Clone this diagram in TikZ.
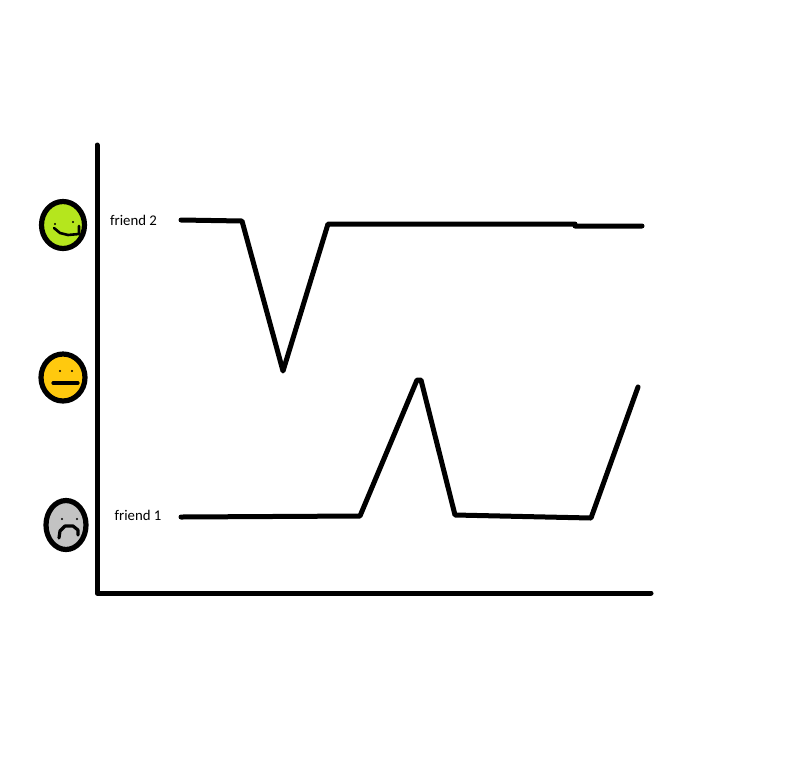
\documentclass[tikz,border=0pt]{standalone}
\usepackage{fontspec}
\setmainfont{Carlito}
\usetikzlibrary{shapes.geometric}
\definecolor{facegreen}{HTML}{B5E61D}
\definecolor{faceyellow}{HTML}{FFC90E}
\definecolor{facegray}{HTML}{C3C3C3}
\tikzset{
  thick line/.style={line width=5pt,line cap=round,line join=round,black},
  face/.style={draw=black,line width=5.2pt,ellipse,minimum width=#1,inner sep=0pt,outer sep=0pt},
  mouth/.style={line width=3.2pt,line cap=round,line join=round,black},
  eye/.style={fill=black,circle,minimum size=2.4pt,inner sep=0pt},
  lab/.style={font=\fontsize{14.8pt}{16pt}\selectfont,text=black,inner sep=0pt,anchor=base}
}
\begin{document}
\begin{tikzpicture}[x=1pt,y=-1pt]
\useasboundingbox[fill=white] (0,0) rectangle (800,780);
% axes
\coordinate (axtop) at (97,145);
\coordinate (axorigin) at (97,593);
\coordinate (axright) at (651,593);
\draw[thick line] (axtop) -- (axorigin) -- (axright);
% faces
\node[face=43pt,minimum height=47pt,fill=facegreen] (happy) at (63,225) {};
\node[face=44pt,minimum height=47pt,fill=faceyellow] (neutral) at (63,377.5) {};
\node[face=40pt,minimum height=49pt,fill=facegray] (sad) at (66,525) {};
% eyes and mouths
\node[eye] (he1) at (55,224) {};
\node[eye] (he2) at (73,222) {};
\node[eye] (ne1) at (60,371) {};
\node[eye] (ne2) at (72,371) {};
\node[eye] (se1) at (62,519) {};
\node[eye] (se2) at (77,519) {};
\draw[mouth,line width=2.6pt] (54,228) -- (60,233) -- (68,235) -- (79,234) -- (79,226);
\draw[mouth] (53,383) -- (78,383);
\draw[mouth] (59,538) -- (60,531) -- (65,526) -- (73,526) -- (78,530) -- (78,535);
% labels
\node[lab] (f2) at (133.5,225) {friend 2};
\node[lab] (f1) at (138,520.5) {friend 1};
% series
\coordinate (a0) at (181,220);
\coordinate (a1) at (242,221);
\coordinate (a2) at (283,371);
\coordinate (a3) at (328,224);
\coordinate (a4) at (575,224);
\coordinate (a5) at (575,226);
\coordinate (a6) at (642,226);
\draw[thick line] (a0) -- (a1) -- (a2) -- (a3) -- (a4) -- (a5) -- (a6);
\coordinate (b0) at (181,517);
\coordinate (b1) at (360,516);
\coordinate (b2) at (417,380);
\coordinate (b3) at (421,380);
\coordinate (b4) at (455,515);
\coordinate (b5) at (591,518);
\coordinate (b6) at (638,387);
\draw[thick line] (b0) -- (b1) -- (b2) -- (b3) -- (b4) -- (b5) -- (b6);
\end{tikzpicture}
\end{document}
